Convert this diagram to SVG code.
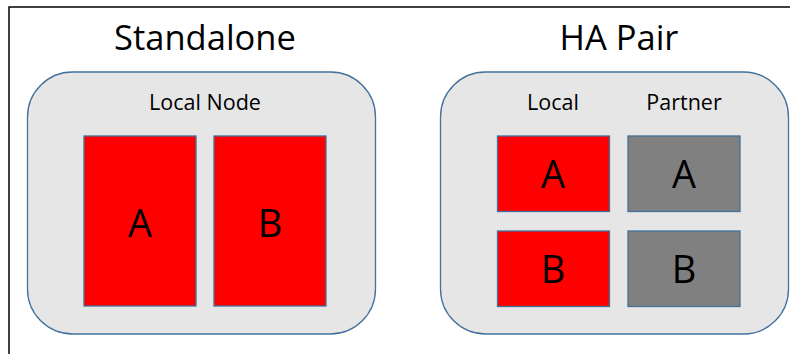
<svg xmlns="http://www.w3.org/2000/svg" width="790" height="354" viewBox="0 0 790 354">
<style>
.frame{fill:none;stroke:#000;stroke-width:1.5}
.cont{fill:#E6E6E6;stroke:#41719C;stroke-width:1.3}
.red{fill:#FF0000;stroke:#41719C;stroke-width:1.3}
.gray{fill:#808080;stroke:#41719C;stroke-width:1.3}
text{font-family:"Open Sans","Liberation Sans",Arial,sans-serif;fill:#000;text-anchor:middle}
.title{font-size:34.5px}
.lbl{font-size:21.5px}
.big{font-size:38px}
</style>
<path class="frame" d="M9,354 V7 H790"/>
<g id="standalone">
<text class="title" x="205" y="50">Standalone</text>
<rect class="cont" x="27.5" y="72" width="348" height="262" rx="45" ry="45"/>
<text class="lbl" x="205" y="110">Local Node</text>
<g id="sa-A"><rect class="red" x="84" y="136" width="112" height="170"/><text class="big" x="140" y="237">A</text></g>
<g id="sa-B"><rect class="red" x="214" y="136" width="112" height="170"/><text class="big" x="270" y="237">B</text></g>
</g>
<g id="hapair">
<text class="title" x="619" y="50">HA Pair</text>
<rect class="cont" x="440.5" y="72" width="348" height="262" rx="45" ry="45"/>
<text class="lbl" x="553" y="110">Local</text>
<text class="lbl" x="684" y="110">Partner</text>
<g id="ha-local-A"><rect class="red" x="497.5" y="136" width="112" height="75.5"/><text class="big" x="553" y="188">A</text></g>
<g id="ha-local-B"><rect class="red" x="497.5" y="231" width="112" height="75.5"/><text class="big" x="553" y="283">B</text></g>
<g id="ha-partner-A"><rect class="gray" x="628" y="136" width="112" height="75.5"/><text class="big" x="684" y="188">A</text></g>
<g id="ha-partner-B"><rect class="gray" x="628" y="231" width="112" height="75.5"/><text class="big" x="684" y="283">B</text></g>
</g>
<g id="connectors"/>
</svg>
